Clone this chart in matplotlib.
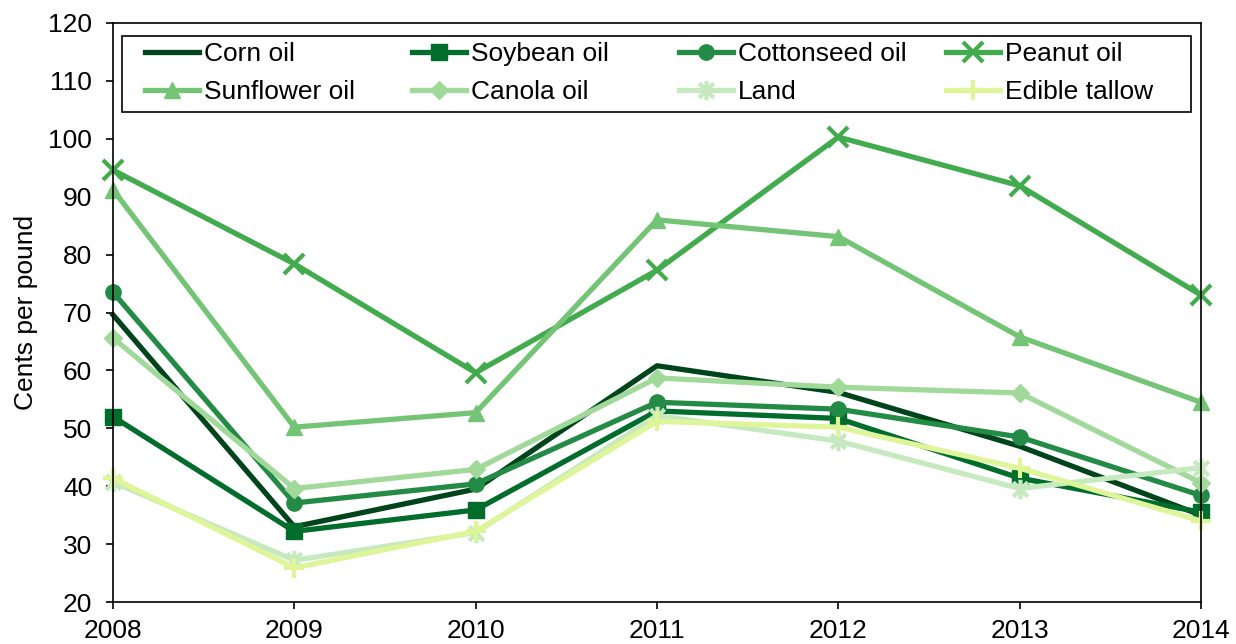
import matplotlib
matplotlib.use("Agg")
import matplotlib.pyplot as plt
from matplotlib.patches import Rectangle
from matplotlib.path import Path

plt.rcParams["font.family"] = ["Liberation Sans", "DejaVu Sans"]

years = [2008, 2009, 2010, 2011, 2012, 2013, 2014]

corn_oil = [69.6, 33.0, 39.5, 60.8, 56.2, 46.9, 35.0]
soybean_oil = [52.0, 32.2, 35.9, 53.0, 51.7, 41.4, 35.5]
cottonseed_oil = [73.5, 37.1, 40.4, 54.5, 53.3, 48.5, 38.4]
peanut_oil = [94.6, 78.4, 59.6, 77.3, 100.3, 91.9, 73.0]
sunflower_oil = [91.2, 50.2, 52.7, 86.0, 83.1, 65.8, 54.5]
canola_oil = [65.6, 39.6, 42.9, 58.7, 57.1, 56.1, 40.6]
land = [40.7, 27.2, 32.0, 52.2, 47.8, 39.6, 43.2]
edible_tallow = [41.4, 25.9, 32.2, 51.2, 50.2, 43.1, 34.0]

# Excel-style "star": an x with a vertical stroke through it
star = Path([(0, -1), (0, 1), (-0.75, -0.75), (0.75, 0.75), (-0.75, 0.75), (0.75, -0.75)],
            [Path.MOVETO, Path.LINETO] * 3)

series = [
    ("Corn oil", corn_oil, "#00441b", None),
    ("Soybean oil", soybean_oil, "#006d2c", "s"),
    ("Cottonseed oil", cottonseed_oil, "#238b45", "o"),
    ("Peanut oil", peanut_oil, "#41ab4d", "x"),
    ("Sunflower oil", sunflower_oil, "#74c476", "^"),
    ("Canola oil", canola_oil, "#a1d99b", "D"),
    ("Land", land, "#c7e9c0", star),
    ("Edible tallow", edible_tallow, "#dff59a", "+"),
]

W, H = 1236, 644
fig = plt.figure(figsize=(W / 100, H / 100), dpi=100)
ax = fig.add_axes([113 / W, 42 / H, 1088 / W, 579 / H])

handles = []
for name, vals, color, marker in series:
    ms = 11
    mew = 1
    if marker == "D":
        ms = 9
    if marker in ("x", "+") or marker is star:
        ms = 14
        mew = 3
    h, = ax.plot(years, vals, color=color, lw=3.8, marker=marker, ms=ms,
                 mew=mew, mec=color, mfc=color, label=name, clip_on=False)
    handles.append(h)

ax.set_xlim(2008, 2014)
ax.set_ylim(20, 120)
ax.set_yticks(range(20, 121, 10))
ax.set_xticks(years)
ax.tick_params(axis="both", labelsize=19, direction="out", length=5, width=1.2)
ax.tick_params(axis="y", pad=10)
ax.tick_params(axis="x", pad=7)
for s in ax.spines.values():
    s.set_linewidth(1.2)
    s.set_color("black")
ax.set_ylabel("Cents per pound", fontsize=19, labelpad=7)

# legend: boxed, 4 equal-width columns, filled row-wise
fig.patches.append(Rectangle((122 / W, 1 - 112 / H), (1191 - 122) / W, 76 / H,
                             transform=fig.transFigure, facecolor="white",
                             edgecolor="black", lw=1.2, zorder=2))
col_x = [145, 412, 679, 946]
for c in range(4):
    pair = [handles[c], handles[c + 4]]
    lg = fig.legend(pair, [h.get_label() for h in pair], loc="upper left",
                    bbox_to_anchor=(col_x[c] / W, 1 - 42 / H),
                    bbox_transform=fig.transFigure, frameon=False,
                    fontsize=19, handlelength=2.05, handletextpad=0.19,
                    borderpad=0, borderaxespad=0, labelspacing=0.53)
    lg.set_zorder(3)

fig.savefig("out.png", dpi=100)
